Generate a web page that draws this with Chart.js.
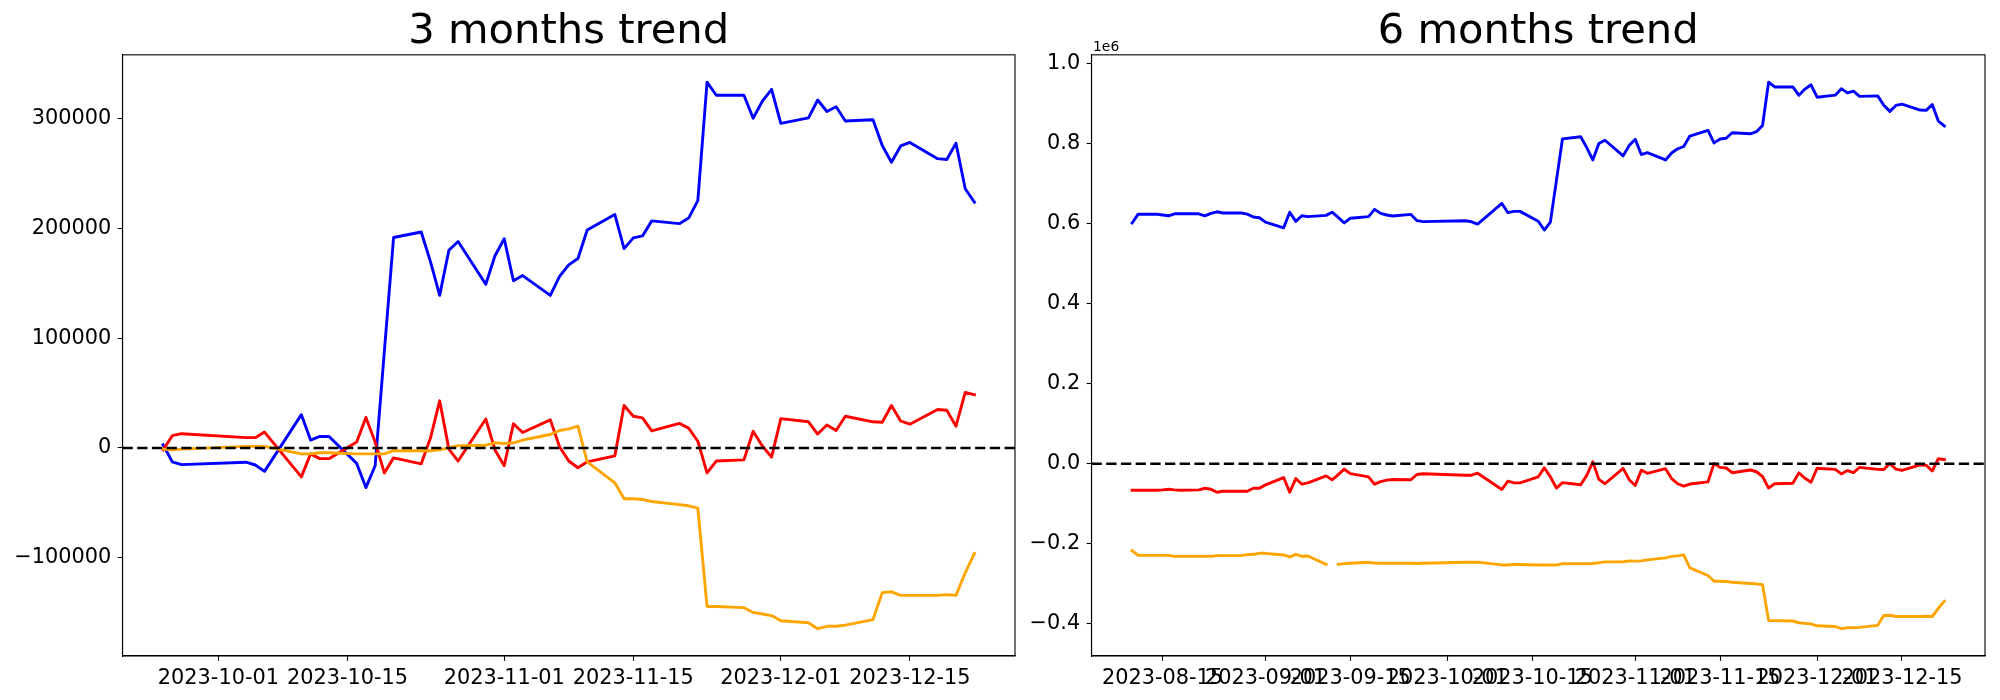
<!DOCTYPE html>
<html><head><meta charset="utf-8">
<script src="https://cdn.jsdelivr.net/npm/chart.js@4.4.1/dist/chart.umd.min.js"></script>
<style>
html,body{margin:0;padding:0;background:#fff;width:2000px;height:700px;overflow:hidden;}
canvas{position:absolute;top:0;}
#c1{left:0;} #c2{left:1025px;}
</style></head><body>
<canvas id="c1" width="1025" height="700"></canvas>
<canvas id="c2" width="975" height="700"></canvas>
<script>
// ---------- 3 months data ----------
const leftDates = ["2023-09-25","2023-09-26","2023-09-27","2023-10-04","2023-10-05","2023-10-06","2023-10-10","2023-10-11","2023-10-12","2023-10-13","2023-10-16","2023-10-17","2023-10-18","2023-10-19","2023-10-20","2023-10-23","2023-10-24","2023-10-25","2023-10-26","2023-10-27","2023-10-30","2023-10-31","2023-11-01","2023-11-02","2023-11-03","2023-11-06","2023-11-07","2023-11-08","2023-11-09","2023-11-10","2023-11-13","2023-11-14","2023-11-15","2023-11-16","2023-11-17","2023-11-20","2023-11-21","2023-11-22","2023-11-23","2023-11-24","2023-11-27","2023-11-28","2023-11-29","2023-11-30","2023-12-01","2023-12-04","2023-12-05","2023-12-06","2023-12-07","2023-12-08","2023-12-11","2023-12-12","2023-12-13","2023-12-14","2023-12-15","2023-12-18","2023-12-19","2023-12-20","2023-12-21","2023-12-22"];
const leftBlue = [2900,-12650,-15180,-13010,-15540,-21320,30360,7230,10480,10480,-14090,-36140,-16260,88000,191900,196960,169860,139140,180340,188290,149260,175280,190820,152510,157210,139140,156490,166970,172750,198770,212870,181790,191540,193350,207080,204550,209610,225510,333570,321650,321650,300680,316230,327070,295990,301050,317310,306830,311170,298160,299240,275750,260570,275390,278640,263820,263100,277920,236360,224070];
const leftRed = [-1800,11200,13000,9400,9400,14460,-26380,-5420,-9760,-9760,5420,27830,5420,-22770,-9040,-14460,9040,43010,-1080,-11930,26380,-1810,-16260,22050,14090,25660,1080,-11930,-18070,-12650,-7230,38670,28910,27470,15540,22410,18070,6140,-22770,-11930,-10840,15180,1810,-8310,26740,23850,12650,20960,15900,28910,23850,23490,38670,24580,21680,35060,34330,19880,50600,48430];
const leftOrange = [-1080,-1800,-1080,1450,1450,1450,-5420,-5420,-4340,-4340,-5420,-5420,-5420,-5420,-2530,-2530,-2530,-1800,0,2170,2530,4700,3980,4700,7230,12290,15900,17350,19880,-12650,-31800,-46260,-46260,-46980,-48790,-51680,-52760,-54930,-144560,-144560,-145640,-149980,-151430,-152870,-157570,-159380,-164800,-162630,-162630,-161550,-156490,-131910,-131190,-134440,-134440,-134440,-133720,-134440,-113840,-96130];
const leftXTickLabels = ["2023-10-01","2023-10-15","2023-11-01","2023-11-15","2023-12-01","2023-12-15"];
const leftYTicks = [-100000,0,100000,200000,300000];

// ---------- 6 months data ----------
const rightDates = ["2023-08-10","2023-08-11","2023-08-14","2023-08-15","2023-08-16","2023-08-17","2023-08-18","2023-08-21","2023-08-22","2023-08-23","2023-08-24","2023-08-25","2023-08-28","2023-08-29","2023-08-30","2023-08-31","2023-09-01","2023-09-04","2023-09-05","2023-09-06","2023-09-07","2023-09-08","2023-09-11","2023-09-12","2023-09-13","2023-09-14","2023-09-15","2023-09-18","2023-09-19","2023-09-20","2023-09-21","2023-09-22","2023-09-25","2023-09-26","2023-09-27","2023-10-04","2023-10-05","2023-10-06","2023-10-10","2023-10-11","2023-10-12","2023-10-13","2023-10-16","2023-10-17","2023-10-18","2023-10-19","2023-10-20","2023-10-23","2023-10-24","2023-10-25","2023-10-26","2023-10-27","2023-10-30","2023-10-31","2023-11-01","2023-11-02","2023-11-03","2023-11-06","2023-11-07","2023-11-08","2023-11-09","2023-11-10","2023-11-13","2023-11-14","2023-11-15","2023-11-16","2023-11-17","2023-11-20","2023-11-21","2023-11-22","2023-11-23","2023-11-24","2023-11-27","2023-11-28","2023-11-29","2023-11-30","2023-12-01","2023-12-04","2023-12-05","2023-12-06","2023-12-07","2023-12-08","2023-12-11","2023-12-12","2023-12-13","2023-12-14","2023-12-15","2023-12-18","2023-12-19","2023-12-20","2023-12-21","2023-12-22"];
const rightBlue = [602000,624000,624000,622000,620000,625000,625000,625000,620000,626000,630000,627000,627000,624000,617000,615000,604000,590000,629000,606000,620000,618000,621000,629000,616000,602000,614000,618000,636000,626000,622000,619500,
623400,607850,605320,607490,604960,599180,650860,627730,630980,630980,606410,584360,604240,708500,812400,817460,790360,759640,800840,808790,769760,795780,811320,773010,777710,759640,776990,787470,793250,819270,833370,802290,812040,813850,827580,825050,830110,846010,954070,942150,942150,921180,936730,947570,916490,921550,937810,927330,931670,918660,919740,896250,881070,895890,899140,884320,883600,898420,856860,844570];
const rightRed = [-66200,-66200,-66200,-65300,-63700,-65300,-66200,-65300,-61200,-63700,-71200,-68700,-68700,-68700,-61200,-61200,-52800,-34500,-71200,-37000,-51100,-47800,-30300,-40300,-27000,-13600,-24500,-32800,-51100,-44500,-41000,-39300,
-39800,-26800,-25000,-28600,-28600,-23540,-64380,-43420,-47760,-47760,-32580,-10170,-32580,-60770,-47040,-52460,-28960,5010,-39080,-49930,-11620,-39810,-54260,-15950,-23910,-12340,-36920,-49930,-56070,-50650,-45230,670,-9090,-10530,-22460,-15590,-19930,-31860,-60770,-49930,-48840,-22820,-36190,-46310,-11260,-14150,-25350,-17040,-22100,-9090,-14150,-14510,670,-13420,-16320,-2940,-3670,-18120,12600,10430];
const rightOrange = [-217200,-229000,-229000,-229000,-229000,-231400,-231400,-231400,-231400,-231400,-229700,-229700,-229700,-227200,-226400,-223900,-223900,-228000,-233000,-226400,-231400,-230500,-251400,null,-251400,-249700,-248900,-246400,-248000,-248900,-248900,-248900,
-248580,-249300,-248580,-246050,-246050,-246050,-252920,-252920,-251840,-251840,-252920,-252920,-252920,-252920,-250030,-250030,-250030,-249300,-247500,-245330,-244970,-242800,-243520,-242800,-240270,-235210,-231600,-230150,-227620,-260150,-279300,-293760,-293760,-294480,-296290,-299180,-300260,-302430,-392060,-392060,-393140,-397480,-398930,-400370,-405070,-406880,-412300,-410130,-410130,-409050,-403990,-379410,-378690,-381940,-381940,-381940,-381220,-381940,-361340,-343630];
const rightXTickLabels = ["2023-08-15","2023-09-01","2023-09-15","2023-10-01","2023-10-15","2023-11-01","2023-11-15","2023-12-01","2023-12-15"];
const rightYTicks = [-400000,-200000,0,200000,400000,600000,800000,1000000];

// ---------- helpers ----------
function toDay(s){const p=s.split('-');return Date.UTC(+p[0],+p[1]-1,+p[2])/86400000;}
function pts(dates,vals){return dates.map((d,i)=>({x:toDay(d),y:vals[i]}));}
function padLimits(lo,hi){const m=(hi-lo)*0.05;return [lo-m,hi+m];}
function dataLimits(arrs){let lo=Infinity,hi=-Infinity;arrs.forEach(a=>a.forEach(v=>{if(v!==null){lo=Math.min(lo,v);hi=Math.max(hi,v);}}));return padLimits(lo,hi);}
const MINUS='\u2212';
const FONT='"DejaVu Sans", sans-serif';

function framePlugin(offsetText){
  return {
    id:'frame',
    afterDatasetsDraw(chart){
      const {ctx,chartArea,scales}=chart;
      const y=scales.y.getPixelForValue(0);
      ctx.save();
      ctx.beginPath();
      ctx.setLineDash([10.3,4.4]);
      ctx.lineWidth=2.5;
      ctx.strokeStyle='#000';
      ctx.moveTo(chartArea.left,y);ctx.lineTo(chartArea.right,y);
      ctx.stroke();
      ctx.restore();
    },
    afterDraw(chart){
      const {ctx,chartArea}=chart;
      ctx.save();
      ctx.lineWidth=1.1;ctx.strokeStyle='#000';
      ctx.strokeRect(chartArea.left,chartArea.top,chartArea.right-chartArea.left,chartArea.bottom-chartArea.top);
      if(offsetText){
        ctx.fillStyle='#000';
        ctx.font='13.9px '+FONT;
        ctx.textBaseline='alphabetic';ctx.textAlign='left';
        ctx.fillText(offsetText,chartArea.left+1.5,chartArea.top-4);
      }
      ctx.restore();
    }
  };
}

function build(id,cfg){
  const xVals=cfg.dates.map(toDay);
  const xLim=padLimits(Math.min(...xVals),Math.max(...xVals));
  const yLim=dataLimits([cfg.blue,cfg.red,cfg.orange]);
  const xTickVals=cfg.xTicks.map(toDay);
  const axisCommon={
    grid:{drawOnChartArea:false,drawTicks:true,tickLength:4.86,color:'#000',tickColor:'#000',tickWidth:1.1},
    border:{display:true,color:'#000',width:1.1}
  };
  const line=(vals,color,order)=>({data:pts(cfg.dates,vals),borderColor:color,backgroundColor:color,borderWidth:2.9,pointRadius:0,tension:0,fill:false,spanGaps:false,borderJoinStyle:'round',borderCapStyle:'square',order:order});
  return new Chart(document.getElementById(id),{
    type:'line',
    data:{datasets:[line(cfg.blue,'#0000ff',2),line(cfg.red,'#ff0000',1),line(cfg.orange,'#ffa500',0)]},
    options:{
      responsive:false,animation:false,devicePixelRatio:1,
      layout:{padding:{left:0,right:cfg.padRight,top:9,bottom:0}},
      plugins:{
        legend:{display:false},tooltip:{enabled:false},
        title:{display:true,text:cfg.title,fullSize:false,color:'#000',font:{family:FONT,size:41.67,weight:'normal',lineHeight:1.1},padding:{top:0,bottom:0}}
      },
      scales:{
        x:Object.assign({type:'linear',min:xLim[0],max:xLim[1],
          afterFit(s){s.height=44;},
          afterBuildTicks(s){s.ticks=xTickVals.map(v=>({value:v}));},
          ticks:{autoSkip:false,maxRotation:0,minRotation:0,color:'#000',padding:5,font:{family:FONT,size:20.83},
            callback(v){const i=xTickVals.indexOf(v);return i>=0?cfg.xTicks[i]:'';}}
        },axisCommon),
        y:Object.assign({type:'linear',min:yLim[0],max:yLim[1],
          afterFit(s){s.width=cfg.yWidth;},
          afterBuildTicks(s){s.ticks=cfg.yTicks.map(v=>({value:v}));},
          ticks:{color:'#000',padding:6.5,font:{family:FONT,size:20.83},callback:cfg.yFmt}
        },axisCommon)
      }
    },
    plugins:[framePlugin(cfg.offsetText)]
  });
}

build('c1',{dates:leftDates,blue:leftBlue,red:leftRed,orange:leftOrange,xTicks:leftXTickLabels,yTicks:leftYTicks,
  title:'3 months trend',padRight:10,yWidth:122.5,offsetText:null,
  yFmt:v=>String(Math.round(v)).replace('-',MINUS)});
build('c2',{dates:rightDates,blue:rightBlue,red:rightRed,orange:rightOrange,xTicks:rightXTickLabels,yTicks:rightYTicks,
  title:'6 months trend',padRight:15,yWidth:66.5,offsetText:'1e6',
  yFmt:v=>(v/1e6).toFixed(1).replace('-',MINUS)});
</script>
</body></html>
